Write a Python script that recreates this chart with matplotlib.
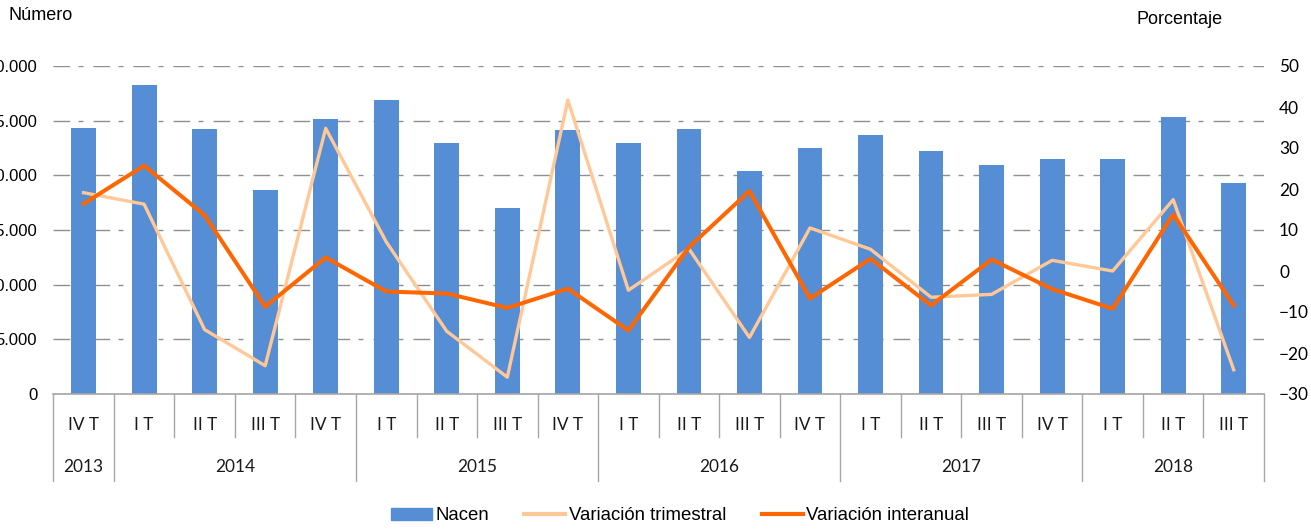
import matplotlib
matplotlib.use("Agg")
import matplotlib.pyplot as plt
from matplotlib.patches import Patch
from matplotlib.lines import Line2D
from matplotlib.ticker import FuncFormatter

plt.rcParams['font.family'] = ['Liberation Sans', 'DejaVu Sans']

# data
quarters = ["IV T",
            "I T", "II T", "III T", "IV T",
            "I T", "II T", "III T", "IV T",
            "I T", "II T", "III T", "IV T",
            "I T", "II T", "III T", "IV T",
            "I T", "II T", "III T"]
years = ["2013", "2014", "2015", "2016", "2017", "2018"]
quarters_per_year = [1, 4, 4, 4, 4, 3]

nacen = [24300, 28250, 24200, 18650, 25150, 26900, 22950, 17000, 24150, 22950,
         24200, 20400, 22500, 23700, 22200, 20950, 21500, 21500, 25350, 19300]
var_trimestral = [19.1, 16.3, -14.3, -23.1, 34.8, 7.1, -14.7, -25.9, 41.7, -4.7,
                  5.4, -16.2, 10.5, 5.3, -6.4, -5.7, 2.6, 0.0, 17.4, -24.1]
var_interanual = [16.4, 25.7, 13.6, -8.7, 3.3, -5.0, -5.5, -9.0, -4.3, -14.5,
                  5.8, 19.5, -6.7, 3.0, -8.4, 2.8, -4.4, -9.2, 13.8, -8.4]

BAR = "#558ED5"
LIGHT = "#FFC896"
DARK = "#FF6600"
GRID = "#8f8f8f"
SEP = "#a6a6a6"

W, H = 1311, 530
fig = plt.figure(figsize=(W / 100, H / 100), dpi=100)
ax = fig.add_axes([53.3 / W, (H - 394) / H, 1210.7 / W, 328 / H])

x = list(range(len(nacen)))
ax.bar(x, nacen, width=0.41, color=BAR, zorder=2)
ax.set_xlim(-0.5, len(nacen) - 0.5)
ax.set_ylim(0, 30000)
ax.set_yticks(range(0, 30001, 5000))
ax.yaxis.set_major_formatter(FuncFormatter(lambda v, p: f"{int(v):,}".replace(",", ".")))
ax.tick_params(axis="y", length=0, pad=11.5, labelsize=12)
ax.set_xticks([])
ax.grid(axis="y", color=GRID, linewidth=1.0, linestyle=(0, (12, 6, 3.6, 7.2)), zorder=0)
ax.set_axisbelow(True)
for s in ["left", "right", "top"]:
    ax.spines[s].set_visible(False)
ax.spines["bottom"].set_color(SEP)
ax.spines["bottom"].set_linewidth(1.2)

ax2 = ax.twinx()
ax2.plot(x, var_trimestral, color=LIGHT, linewidth=2.4, solid_joinstyle="round", zorder=3)
ax2.plot(x, var_interanual, color=DARK, linewidth=2.9, solid_joinstyle="round", zorder=4)
ax2.set_ylim(-30, 50)
ax2.set_yticks(range(-30, 51, 10))
ax2.tick_params(axis="y", length=0, pad=10.8)
for lab in ax2.get_yticklabels():
    lab.set_fontfamily("Lato")
    lab.set_fontsize(12.4)
for s in ["left", "right", "top", "bottom"]:
    ax2.spines[s].set_visible(False)

# two-level category axis
tr = ax.get_xaxis_transform()
q_bottom = -43 / 328
y_bottom = -87 / 328
year_edges = [-0.5]
for n in quarters_per_year:
    year_edges.append(year_edges[-1] + n)
for k in range(len(quarters) + 1):
    edge = k - 0.5
    low = y_bottom if edge in year_edges else q_bottom
    ax.plot([edge, edge], [0, low], transform=tr, color=SEP, linewidth=1.0, clip_on=False)
for i, q in enumerate(quarters):
    ax.text(i, -31 / 328, q, transform=tr, ha="center", va="center",
            fontsize=12.4, family="Lato", color="#1a1a1a")
for j, yr in enumerate(years):
    ax.text((year_edges[j] + year_edges[j + 1]) / 2, -73 / 328, yr, transform=tr,
            ha="center", va="center", fontsize=12.4, family="Lato", color="#1a1a1a")

fig.text(8 / W, 1 - 15 / H, "Número", fontsize=13, ha="left", va="center")
fig.text(1136 / W, 1 - 19 / H, "Porcentaje", fontsize=13, ha="left", va="center")

handles = [Patch(color=BAR, label="Nacen"),
           Line2D([], [], color=LIGHT, linewidth=3, label="Variación trimestral"),
           Line2D([], [], color=DARK, linewidth=3, label="Variación interanual")]
fig.legend(handles=handles, loc="center", bbox_to_anchor=(680 / W, 1 - 516 / H),
           ncol=3, frameon=False, fontsize=13.4, handlelength=2.2, handleheight=0.55,
           handletextpad=0.2, columnspacing=1.9)

fig.savefig("out.png", dpi=100)
